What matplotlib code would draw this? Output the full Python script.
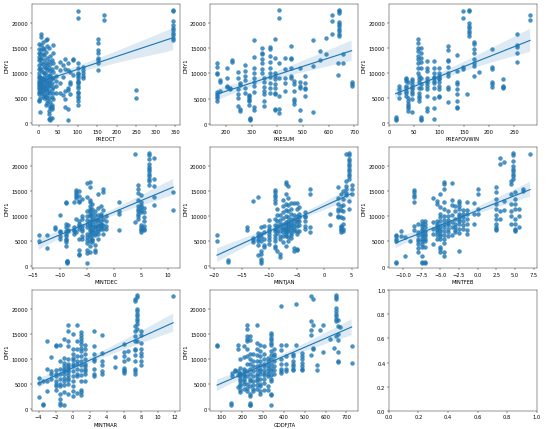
import matplotlib
matplotlib.use("Agg")
import matplotlib.pyplot as plt
import numpy as np
import seaborn as sns

# each entry: (x value, DMY1 values read at that x)
preoct = [
    (0, [15700, 14800, 14000, 13200, 12500, 11500, 10800, 10000, 9500, 9000, 8500, 8000, 7600, 7200, 6800, 6200, 5800, 4700, 4500]),
    (3, [13800, 12800, 11000, 9200, 8200, 7500, 7000, 6500, 5000, 2300]),
    (6, [17700, 17200, 15500, 14500, 13000, 12000, 10500, 9000, 8200, 7800, 7000, 6000]),
    (10, [16200, 15000, 13700, 11800, 10200, 8800, 8000, 7300, 6400, 5500]),
    (14, [14700, 13500, 12500, 11200, 10000, 9300, 8600, 7500, 6700, 5900, 5100]),
    (18, [16500, 14200, 12000, 11000, 9800, 8400, 7600, 6900, 5300, 3600]),
    (22, [16700, 15300, 13000, 11500, 10500, 9000, 8100, 7000, 6300, 5600, 4600, 4000]),
    (26, [14900, 12300, 11000, 9500, 8300, 7400, 6500, 5000, 2500, 1800, 900]),
    (30, [13300, 11800, 10300, 9700, 8700, 7700, 6000, 4200, 3400, 3000, 1000, 700]),
    (34, [12500, 10800, 9000, 8000, 6800, 5200, 3700, 3300, 2800, 1100]),
    (38, [15500, 14000, 12000, 10200, 9000, 7200, 6000, 4800]),
    (45, [11200, 9500, 8500, 7500, 6100]),
    (55, [12200, 10500, 8000, 6000]),
    (62, [11500, 9200, 5600]),
    (68, [12800, 10800, 6500, 4800, 3200]),
    (75, [12000, 10500, 7000, 6600, 2900, 700]),
    (80, [10200, 8300, 7800, 5800]),
    (88, [12700, 12500, 9700]),
    (100, [22400, 21000, 12000, 11000, 10000, 9500, 9000, 8500, 8000, 7500, 7000, 6000, 5500, 5000, 4500, 3700]),
    (102, [9800, 8200, 6300]),
    (113, [11100, 10500, 10000, 9500, 9000]),
    (153, [16800, 16000, 14500, 14000, 13000, 12500, 12000, 10500]),
    (168, [21500, 20500]),
    (250, [6700, 5100]),
    (345, [22600, 22300, 20300, 19500, 19000, 18500, 18000, 17500, 17000, 16600]),
]

presum = [
    (165, [12000, 11200, 10000, 9800, 6200, 5800, 5500, 5200, 4600]),
    (175, [8700, 8300, 6400]),
    (205, [11000, 9000, 7500, 7200]),
    (215, [6800, 7000]),
    (225, [12700, 12200]),
    (245, [10300, 9000, 6800, 5800, 5200, 3500]),
    (255, [3000, 2500, 8000, 7600]),
    (275, [11700, 10500, 9500, 8600, 7000, 6000]),
    (290, [5500, 5200, 4800, 4500, 3800, 5600]),
    (295, [1200, 800, 1000]),
    (310, [16600, 13200, 11000, 10000, 9000, 8200, 7400, 6200, 3300, 2800]),
    (340, [15000, 14000, 13800, 12800, 12000, 10800, 10000]),
    (350, [9000, 8200, 7200, 6500, 5900, 4500, 3600]),
    (370, [15200, 14800, 13500, 12300, 11000, 10000, 9200, 8000, 7000, 6000]),
    (392, [16800, 13000, 10000, 9500, 8800, 7800, 7000, 6000, 5800, 3000, 2800]),
    (408, [22500, 21000, 12000, 9000, 5500, 3000, 2200]),
    (430, [13000, 10800, 9000, 8000, 6500]),
    (455, [15500, 13000, 12800, 11000, 9500, 9000]),
    (465, [8500, 7800, 6500, 5000, 4600, 4000]),
    (490, [11000, 8200, 7500, 7000, 2800, 800]),
    (507, [9500, 8000, 7000, 6800, 5500]),
    (540, [16500, 11400, 2300]),
    (565, [14400, 12600]),
    (590, [17000, 13800]),
    (615, [21500, 20300, 17800]),
    (635, [12000, 9600]),
    (640, [22600, 22300, 22000, 20200, 19800, 19300, 18800, 18300, 17800, 17300]),
    (655, [13800, 12000]),
    (690, [8200, 7800, 7500]),
]

preafovwin = [
    (13, [1200, 900, 700]),
    (20, [7500, 6800, 6000, 5000]),
    (33, [9000, 8800, 8500, 7500, 7000, 6500, 6000, 5500]),
    (37, [8200, 5000, 4500, 3800, 3500, 3000, 2500]),
    (45, [8800, 8500, 7800, 7200, 6800, 6200, 5800, 4800, 2200]),
    (57, [16800, 16000, 15000, 14500, 13500, 12800, 12000, 11000, 10000]),
    (59, [9500, 8800, 8300, 7000, 6000, 5500, 5000, 4500]),
    (63, [15000, 14000, 13000, 12200, 11000, 9000, 7800, 7000, 1200, 900, 700]),
    (75, [12500, 11000, 10500, 9000, 8500, 8000, 7500, 6800, 3000, 2500, 5500]),
    (90, [12500, 11000, 10000, 9200, 9000, 8500, 8000, 7000, 3000, 800, 5000]),
    (100, [11000, 10000, 9500, 9000, 8800, 8200, 7500, 6800, 5500, 5300]),
    (117, [15500, 14700, 12700, 12500, 11300, 10000, 9500, 7200, 6800, 4200]),
    (135, [13600, 10500, 8300, 7800, 6800, 5800, 4500, 3200, 3000]),
    (148, [22500, 21000, 11200, 10800]),
    (155, [5800]),
    (160, [22700, 22400, 20000, 19500, 19000, 18500, 18000, 17500]),
    (170, [16300, 15800, 14800, 14000, 12800, 12000, 11500, 9500]),
    (180, [10200]),
    (205, [14800, 11200, 10800, 8200, 7800, 7300]),
    (228, [8800, 7500, 7200, 7000]),
    (255, [17800, 15600, 15300, 14000, 12200]),
    (282, [21700, 20600]),
]

mintdec = [
    (-14, [6300, 5000]),
    (-12.5, [6200, 3600]),
    (-11, [7800, 7500]),
    (-10, [10300, 7000, 6000, 5500, 6800]),
    (-9, [12800, 12600, 8500, 7800, 7000, 6500, 6000, 5500, 5200, 4800, 4000]),
    (-8.7, [1000, 700, 900, 1000]),
    (-8.5, [8300, 7200, 7000]),
    (-7.5, [12900, 7800, 7200, 7000, 6500]),
    (-7, [15200, 14800, 14400, 14000, 13600, 9500, 6800]),
    (-6.5, [15000, 14000, 13000, 12800, 9000, 8500, 8000, 7500, 5500, 3300, 2500, 2200]),
    (-6, [13500, 10000, 9500, 8000, 7500, 7000, 6000, 5500]),
    (-5, [16600, 13800, 11000, 10000, 9200, 8500, 7800, 6500, 5800, 5200, 4600, 3300, 2700, 700]),
    (-4.5, [16800, 15800, 13300, 12800, 12000, 11500, 11000, 10500, 10000, 9000, 8500, 8000, 7500, 7000, 6500, 5800, 5000, 4000, 2800]),
    (-4, [12500, 11500, 10600, 9800, 9200, 8500, 7800, 7200, 6800, 6200, 5500, 5200, 4800]),
    (-3.5, [11000, 10300, 9500, 8800, 8100, 7800, 7300, 6700, 6200, 4200, 3200, 2800]),
    (-3, [14400, 11700, 10200, 9500, 9000, 8300, 8000, 7500, 7000, 6500, 5500]),
    (-2.5, [12000, 10500, 10000, 9000, 8500, 8200, 7800, 7500]),
    (-2, [15500, 14800, 11200, 9500, 8200, 7500, 6500]),
    (-1.5, [10000, 9000, 8000, 7500]),
    (1, [12800, 11000, 10500, 7200]),
    (4, [22500, 8800]),
    (4.5, [16200, 15500, 14700, 13200, 12000, 11500, 11000, 10500, 10000, 9500]),
    (5, [14200, 12800, 12200, 11800, 11200, 10800, 8300, 7800, 7500, 7200, 6900]),
    (5.5, [11600, 10900, 9800, 9100, 8000, 7500, 7200]),
    (6.5, [22700, 22200, 21500, 20500, 19800, 19500, 19000, 18500, 18000, 17500, 17000, 16200]),
    (7.5, [21700, 17500, 16000, 13800, 12200]),
    (11, [14800, 11200]),
]

mintjan = [
    (-19.5, [6300, 5000]),
    (-17.5, [1200, 800]),
    (-14, [7800, 7200]),
    (-13, [13000, 5600, 5300, 4800]),
    (-12, [13800, 6600, 6000, 5500, 5000, 4200, 2300]),
    (-11.5, [7800, 6500, 5800, 5000, 3000, 2500, 1500, 1000, 700]),
    (-11, [8000, 6800, 5500, 4300, 3800]),
    (-10, [9200, 8000, 7500, 7000, 6500, 5800, 5200, 4500]),
    (-9, [15200, 14800, 14200, 13800, 13200, 12700, 9500, 8300, 7500, 7000, 6300, 5700, 5000, 4000, 3600]),
    (-8.5, [11500, 10200, 9000, 8000, 7200, 6700, 3000]),
    (-8, [10300, 9200, 8500, 7800, 7000, 6000, 5500, 2500, 1800]),
    (-7.5, [13300, 12000, 10800, 9700, 8500, 7700, 7400, 6800, 6100, 4800]),
    (-7, [16800, 16500, 14500, 12500, 11200, 10000, 8800, 8200, 7700, 7300, 6900, 6500, 6000, 4000]),
    (-6.5, [16000, 13600, 12200, 11000, 9800, 9000, 8500, 8000, 7500, 7000, 5800, 5000]),
    (-6, [12700, 11500, 10500, 9500, 8800, 8300, 7800, 7200, 6700, 6300, 5600]),
    (-5.5, [12700, 10300, 9500, 8600, 8000, 7500, 7000, 3700, 3000]),
    (-5, [12700, 11500, 10000, 9200, 8800, 8000, 7000, 6500, 3500, 3200]),
    (-4.5, [11800, 10500, 9800, 9000, 8200, 7000]),
    (-3.5, [10800, 10000, 9800, 9000, 8000, 7500]),
    (-2.5, [15500, 14500, 7800, 6800]),
    (1, [10500, 8300]),
    (2.5, [15900, 13600, 12500, 11500, 11000, 10000, 9800]),
    (3, [14500, 12000, 11300, 9800, 8000, 7800, 7500, 7200, 6900]),
    (3.5, [15000, 13500, 12200, 11000, 9600, 8400, 7400, 7000]),
    (4, [22500, 17000, 16000, 15500, 14700, 14300]),
    (4.5, [22700, 22200, 21500, 21000, 20500, 20000, 19500, 19000, 18500, 18000, 17500, 13000, 11500]),
    (5, [16200, 15500, 14500]),
]

mintfeb = [
    (-11, [6300, 6000, 5500, 5000, 1000, 800]),
    (-10.3, [7000, 6000]),
    (-9.7, [5800, 2200]),
    (-9, [5000]),
    (-8.5, [15200, 14800, 14300, 13800, 12800, 8000, 7200]),
    (-8, [8500, 6800, 6200, 5500, 5000, 4500, 3700, 3000]),
    (-7.5, [9000, 8500, 8000, 7500, 7000, 6500, 6000, 5500, 5000, 4500, 4000, 2200, 1000, 800]),
    (-7, [9000, 8500, 7800, 7000, 6500, 6000, 5500, 5000, 4000, 1000, 800]),
    (-6, [13700, 8800, 7500, 6500, 4500]),
    (-5.5, [13000, 12500, 9000, 8500, 8000, 7600, 7200, 6800, 6200, 5500]),
    (-5, [14500, 11800, 10500, 9800, 9000, 8000, 7500, 7000, 6500, 6000, 5500, 4000, 3500, 3000]),
    (-4.5, [16800, 16400, 15500, 12800, 11500, 10000, 9200, 8500, 7800, 7000, 6300, 5500, 4700, 3000, 2200]),
    (-4, [11000, 10000, 9200, 8700, 8200, 7500, 6800, 6000]),
    (-3.5, [16600, 13300, 12200, 10200, 8800, 7800, 6200]),
    (-3, [12000, 11000, 9500, 8500, 7800, 7300, 6800]),
    (-2.5, [13000, 12600, 12000, 11500, 10500, 10000, 9500, 9000, 8500, 7500, 6600, 3200]),
    (-2, [11200, 10500, 9800, 9000, 8200, 7500]),
    (-1.5, [12800, 11200, 10500, 9500, 8500, 7200, 6500]),
    (-0.5, [12700, 10500, 8500]),
    (0, [15500, 14500, 11500, 10500]),
    (2.5, [15800, 14800, 13500, 12500, 11500, 10200, 9500, 8500, 7800, 7500, 7200]),
    (3, [21600, 20500, 11000, 9500]),
    (3.5, [20800, 13000, 11200]),
    (4.5, [17000, 16500, 14500, 12500, 11000, 10000, 8500]),
    (4.7, [22700, 22200, 21000, 20000, 19500, 19000, 18500, 18000, 17500]),
    (5, [14800, 13500, 12500, 11500, 9500, 8500, 7500, 7200, 7000]),
    (5.5, [11500, 10000, 7800]),
    (6, [15500, 15000]),
    (7, [22500]),
]

mintmar = [
    (-4, [6200, 5200, 2400]),
    (-3.5, [5500, 1000, 700]),
    (-3, [13600, 8000, 5500, 3500]),
    (-2.5, [10300, 7500, 7000, 6000]),
    (-2, [12700, 12500, 7800, 7000, 6500, 5500, 5000, 4500, 3800]),
    (-1.5, [12800, 9500, 8000, 7000, 6000, 5000, 4500, 3000, 2000, 1200, 800]),
    (-1, [14000, 10200, 9200, 8500, 8000, 7500, 7000, 6200, 5500, 4800, 3300, 800]),
    (-0.5, [16800, 15500, 13500, 12500, 10000, 9000, 8500, 8200, 7800, 7300, 6800, 6200, 5800, 5000, 3000]),
    (0, [15000, 12000, 11000, 10200, 9700, 9000, 8500, 7500, 6500, 5500, 4500, 3500, 2500]),
    (0.5, [16700, 13500, 12000, 10500, 9500, 9000, 8000, 7000, 6500, 3200]),
    (1, [15300, 14800, 14200, 13500, 13000, 12200, 11500, 10500, 9500, 8800, 7800, 6800, 5500, 3800, 3300, 2800]),
    (1.5, [12800, 12000, 11000, 10000, 9000, 8500, 8000, 7500, 7000, 5500]),
    (2.5, [15500, 12500, 11000, 10000, 9500, 8000, 7000, 6500]),
    (3.5, [14800, 11200, 9500, 8800, 7500, 7000]),
    (5, [10300, 8300]),
    (6, [13000, 11300, 10500, 9500, 8200, 7800, 7500, 7200]),
    (6.5, [11500, 10000]),
    (7.3, [22000, 21500, 16500, 15500, 14500, 13500, 12000, 11800, 10800, 9500, 8000, 7500, 7000]),
    (7.6, [22700, 22300, 20000, 19500, 19000, 18500, 18000, 17500, 17000, 16000, 13500]),
    (8, [15600, 14800, 13200, 12000, 11200, 10500, 9500, 8800]),
    (11.8, [22500]),
]

gddfjta = [
    (80, [12800, 12600]),
    (145, [1200, 700]),
    (150, [7200, 6500]),
    (165, [7800, 7500]),
    (180, [12800, 12000, 7500, 6800, 4300]),
    (192, [10000, 8200, 7200, 7000, 6500, 6000, 5500, 5000, 4500, 3800, 3300]),
    (207, [12500, 10400, 8000, 7500, 7000, 6500, 6000, 5500, 5000, 4000]),
    (222, [16800, 16000, 14500, 14000, 13500, 12000, 10500, 9000, 7500, 6500, 5000, 4200, 3500]),
    (237, [14500, 13800, 11000, 10000, 9000, 8000, 7000, 6000, 5500, 4500, 3000, 2500, 1200, 800, 700]),
    (250, [11000, 9500, 8500, 7500, 6500, 5500, 4800, 4000, 3500]),
    (270, [16700, 13200, 12000, 10800, 9500, 8500, 7800, 7000, 6500, 6000, 5500, 4800, 4000]),
    (288, [12800, 11500, 10500, 9500, 8800, 8000, 7500, 7000, 6000, 5000, 4500, 3500, 3000]),
    (305, [12500, 11000, 10000, 9000, 8500, 7800, 7200, 6800, 6000, 5200, 3800]),
    (325, [10200, 9500, 8800, 8200, 7500, 7000, 6500, 4500, 3700]),
    (340, [15200, 14800, 14200, 13700, 13200, 12800, 11500, 10800, 10000, 9000, 8200, 7500, 6800, 6000, 5500, 3000, 2800, 800]),
    (355, [12000, 11000, 10500, 9500, 8500, 7700, 7000]),
    (388, [20500, 12700, 11800, 10000, 9000, 8000, 7500, 7200]),
    (410, [12800, 10500, 9000, 8000, 7500]),
    (445, [11000, 10500, 9500, 9000, 8500, 8000, 7700]),
    (460, [21000, 12800]),
    (485, [11200, 10500, 10000, 9200, 8500, 8000, 7800]),
    (530, [22500, 17500, 15800, 14800, 10700]),
    (540, [22000, 16700, 12200, 12000]),
    (560, [8800, 7800]),
    (575, [15800]),
    (590, [16800, 11400]),
    (620, [14000]),
    (640, [12200]),
    (650, [22700, 22300, 22000, 20200, 19500, 19000, 18500, 18000, 17500, 14500]),
    (660, [17700, 16500, 15000, 13800, 11400, 9500, 9300]),
    (670, [16300]),
    (725, [12600, 9200]),
]

panels = [
    ('PREOCT', preoct),
    ('PRESUM', presum),
    ('PREAFOVWIN', preafovwin),
    ('MINTDEC', mintdec),
    ('MINTJAN', mintjan),
    ('MINTFEB', mintfeb),
    ('MINTMAR', mintmar),
    ('GDDFJTA', gddfjta),
]


def flatten(groups):
    xs, ys = [], []
    for x, vals in groups:
        xs += [x] * len(vals)
        ys += vals
    return np.array(xs, dtype=float), np.array(ys, dtype=float)


fig, axes = plt.subplots(3, 3, figsize=(15, 11.727))
plt.subplots_adjust(left=0.058, right=0.976, top=0.988, bottom=0.042,
                    wspace=0.206, hspace=0.18)

for ax, (name, groups) in zip(axes.flat, panels):
    x, y = flatten(groups)
    sns.regplot(x=x, y=y, ax=ax, seed=0, scatter_kws={'s': 55})
    ax.set_xlabel(name)
    ax.set_ylabel('DMY1')

fig.savefig('out.png', dpi=550 / 15)
plt.close(fig)
